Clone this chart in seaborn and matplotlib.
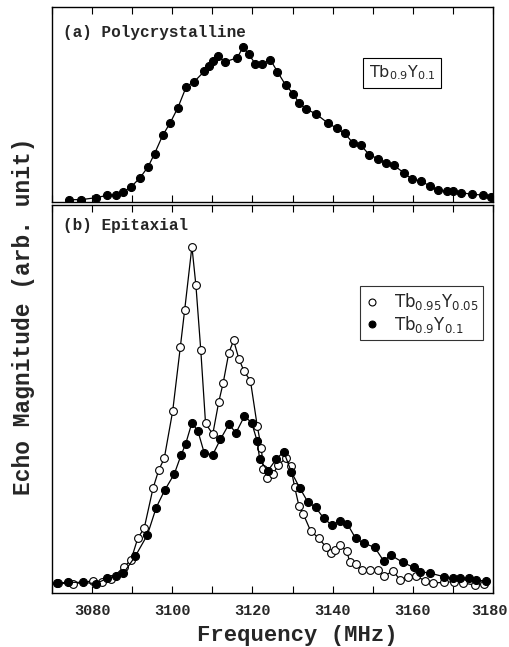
import numpy as np
import pandas as pd
import matplotlib
matplotlib.use("Agg")
import matplotlib.pyplot as plt
import matplotlib.transforms as mtransforms
import seaborn as sns
from matplotlib.ticker import MultipleLocator

# ---- data (arbitrary units) ----
poly_freq = [3074.3, 3077.3, 3081.0, 3083.8, 3086.0, 3087.7, 3089.8, 3092.0, 3094.0, 3095.6,
             3097.6, 3099.5, 3101.4, 3103.5, 3105.5, 3108.0, 3109.2, 3110.1, 3111.4, 3113.1,
             3116.2, 3117.6, 3119.1, 3120.75, 3122.4, 3124.5, 3126.2, 3128.25, 3130.2, 3131.6,
             3133.4, 3135.9, 3138.9, 3141.0, 3143.0, 3145.2, 3147.0, 3149.1, 3151.3, 3153.3,
             3155.2, 3157.7, 3159.7, 3162.0, 3164.2, 3166.2, 3168.5, 3169.9, 3172.0, 3174.7,
             3177.4, 3179.5]
poly_mag = [4, 4, 10, 17, 19, 26, 43, 70, 103, 142,
            196, 234, 279, 342, 357, 388, 404, 419, 434, 416,
            428, 459, 439, 409, 410, 422, 387, 347, 320, 293,
            275, 260, 232, 218, 202, 172, 167, 139, 126, 114,
            107, 85, 66, 60, 45, 33, 30, 30, 25, 20,
            18, 13]

epi10_freq = [3071.3, 3074.1, 3077.8, 3080.9, 3083.8, 3086.0, 3087.8, 3090.75, 3093.8, 3096.0,
              3098.1, 3100.5, 3102.2, 3103.3, 3104.9, 3106.4, 3108.0, 3110.1, 3112.0, 3114.1,
              3115.9, 3118.0, 3119.8, 3121.2, 3121.8, 3123.8, 3125.9, 3127.8, 3129.7, 3131.75,
              3133.8, 3135.75, 3137.8, 3139.75, 3141.75, 3143.7, 3145.75, 3147.8, 3150.5, 3152.7,
              3154.5, 3157.5, 3160.2, 3161.8, 3164.25, 3167.8, 3169.9, 3171.8, 3173.9, 3175.75,
              3178.25]
epi10_mag = [6, 6.7, 6.7, 5.3, 10.7, 13.3, 15.7, 32.7, 54.3, 81.7,
             99, 115.3, 134.3, 145, 166.7, 158.3, 136, 134.7, 150, 165,
             156.7, 173.3, 166.7, 148, 130, 118.3, 130, 137.7, 117.3, 101.7,
             87.3, 82, 70.7, 64.3, 67.7, 65, 50.7, 46, 41.7, 28.3,
             34, 26.7, 21.7, 17.3, 16, 12.3, 10.7, 10.7, 10.7, 9,
             8]

epi05_freq = [3071.5, 3075.2, 3080.3, 3082.4, 3084.75, 3088.0, 3089.7, 3091.4, 3093.0, 3095.2,
              3096.6, 3098.0, 3100.1, 3102.0, 3103.1, 3104.9, 3105.9, 3107.1, 3108.3, 3110.1,
              3111.6, 3112.7, 3114.1, 3115.3, 3116.6, 3117.9, 3119.5, 3121.2, 3122.2, 3122.7,
              3123.7, 3125.1, 3126.4, 3128.25, 3129.5, 3130.5, 3131.6, 3132.7, 3134.5, 3136.6,
              3138.4, 3139.5, 3140.6, 3141.8, 3143.5, 3144.3, 3145.75, 3147.4, 3149.3, 3151.3,
              3152.8, 3155.1, 3156.75, 3158.7, 3160.9, 3163.0, 3165.1, 3167.8, 3170.2, 3172.6,
              3175.5, 3177.7]
epi05_mag = [6, 5, 8.3, 6.7, 10, 22.3, 29, 51, 61, 101,
             119, 131, 178.3, 242.3, 280, 343.3, 304.3, 240, 166, 155.3,
             187.7, 206.7, 236.7, 249.3, 231, 218.3, 208.7, 163.3, 141.7, 120.7,
             111.7, 115, 124, 131, 123.3, 102.7, 83.3, 75, 58.3, 50.7,
             41.7, 35.7, 39.3, 44, 38.3, 26.7, 25, 19.3, 19.3, 19,
             12.7, 18.3, 9.3, 11.7, 13.3, 8, 6, 6.7, 7.3, 6,
             4, 5.3]

x_ticks = [3080, 3100, 3120, 3140, 3160, 3180]
label_a = "(a) Polycrystalline"
label_b = "(b) Epitaxial"
name_05 = r"Tb$_{0.95}$Y$_{0.05}$"
name_10 = r"Tb$_{0.9}$Y$_{0.1}$"

# ---- figure ----
sns.set_style("white")
plt.rcParams["font.family"] = ["DejaVu Sans"]
plt.rcParams["mathtext.default"] = "regular"
MONO = "Liberation Mono"

W, H = 509, 647
fig = plt.figure(figsize=(W / 100, H / 100), dpi=100)
ax1 = fig.add_axes([52 / W, 1 - 202 / H, 441 / W, 195 / H])
ax2 = fig.add_axes([52 / W, 1 - 593 / H, 441 / W, 388 / H])

df_poly = pd.DataFrame({"f": poly_freq, "m": poly_mag})
df10 = pd.DataFrame({"f": epi10_freq, "m": epi10_mag})
df05 = pd.DataFrame({"f": epi05_freq, "m": epi05_mag})

common = dict(x="f", y="m", sort=False, estimator=None, color="black", linewidth=0.9)
sns.lineplot(data=df_poly, ax=ax1, marker="o", markersize=5.8,
             markerfacecolor="black", markeredgecolor="black", **common)
sns.lineplot(data=df05, ax=ax2, marker="o", markersize=5.6,
             markerfacecolor="white", markeredgecolor="black", markeredgewidth=0.8,
             label=name_05, **common)
sns.lineplot(data=df10, ax=ax2, marker="o", markersize=5.8,
             markerfacecolor="black", markeredgecolor="black",
             label=name_10, **common)

ax1.set_ylim(-3, 580)
ax2.set_ylim(-4, 385)

for ax in (ax1, ax2):
    ax.set_xlim(3070, 3180)
    ax.xaxis.set_major_locator(MultipleLocator(10))
    ax.set_yticks([])
    ax.set_xlabel("")
    ax.set_ylabel("")
    ax.tick_params(axis="x", which="major", direction="in", top=True, bottom=True,
                   length=5, width=0.8, color="black")
    for s in ax.spines.values():
        s.set_visible(True)
        s.set_color("black")
        s.set_linewidth(1.0)

ax1.set_xticklabels([])
all_ticks = np.arange(3070, 3181, 10)
ax2.set_xticks(all_ticks)
ax2.set_xticklabels([str(t) if t in x_ticks else "" for t in all_ticks],
                    fontsize=11, fontweight="bold", family=MONO)
ax2.tick_params(axis="x", pad=8)
last = ax2.get_xticklabels()[-1]
last.set_transform(last.get_transform() +
                   mtransforms.ScaledTranslation(-3 / 100, 0, fig.dpi_scale_trans))

ax1.text(0.025, 0.87, label_a, transform=ax1.transAxes, fontsize=11.5,
         fontweight="bold", family=MONO, va="center", ha="left")
ax2.text(0.025, 0.948, label_b, transform=ax2.transAxes, fontsize=11.5,
         fontweight="bold", family=MONO, va="center", ha="left")

fig.text(402 / W, 1 - 73 / H, name_10, fontsize=11.5, ha="center", va="center",
         bbox=dict(boxstyle="square,pad=0.35", fc="white", ec="black", lw=0.8))

leg = ax2.legend(loc="upper right", bbox_to_anchor=(0.978, 0.79), fontsize=12,
                 frameon=True, fancybox=False, edgecolor="black", handlelength=0.8,
                 handletextpad=0.9, borderpad=0.3, labelspacing=0.1, borderaxespad=0)
leg.get_frame().set_linewidth(0.8)
for h in leg.legend_handles:
    h.set_linestyle("None")
    h.set_markersize(5)

fig.text(297 / W, 1 - 635 / H, "Frequency (MHz)", ha="center", va="center",
         fontsize=16, family=MONO, fontweight="bold")
fig.text(24 / W, 1 - 316 / H, "Echo Magnitude (arb. unit)", ha="center", va="center",
         rotation=90, fontsize=16.5, family=MONO, fontweight="bold")

fig.savefig("out.png", dpi=100)
